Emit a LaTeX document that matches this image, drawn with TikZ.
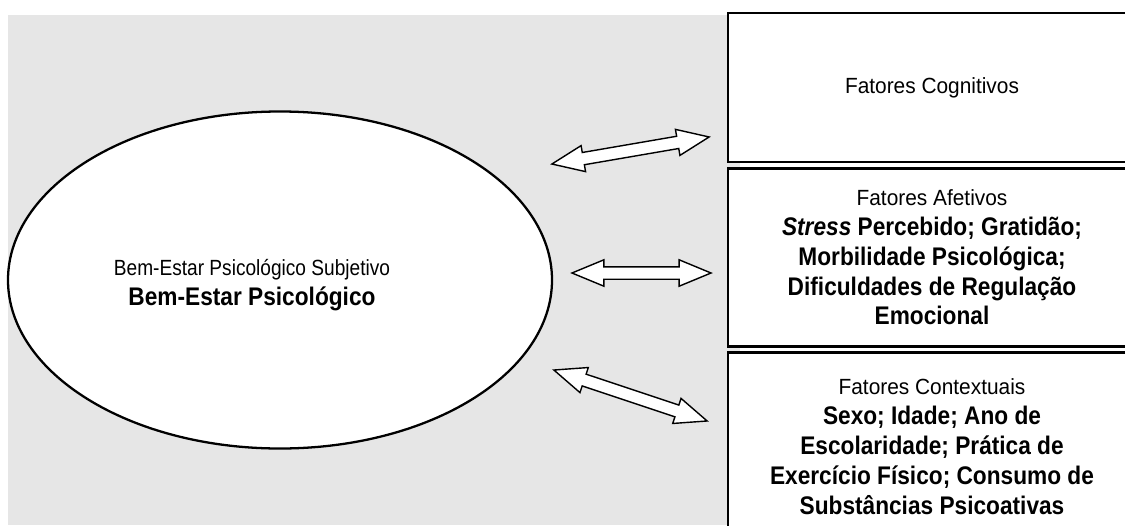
\documentclass[tikz,border=0pt]{standalone}
\usepackage{fontspec}
\setmainfont{Liberation Sans}[UprightFeatures={FakeStretch=0.95}, BoldFeatures={FakeStretch=0.89}, BoldItalicFeatures={FakeStretch=0.89}]
\newfontfamily\estreita{Liberation Sans}[FakeStretch=0.87]
\usetikzlibrary{shapes.geometric,shapes.arrows,positioning}
\definecolor{fundo}{RGB}{230,230,230}
\newcommand{\forte}[1]{{\fontsize{14.5}{17}\selectfont\bfseries #1}}
\tikzset{
  texto/.style={align=center, inner sep=0pt, font=\fontsize{12.5}{17}\selectfont},
  fator/.style={texto, rectangle, draw=black, line width=1.6pt, fill=white, minimum width=8.16cm},
  bem/.style={ellipse, draw=black, line width=1.3pt, fill=white, minimum width=10.88cm, minimum height=6.74cm, inner sep=0pt},
  dup/.style={double arrow, draw=black, line width=0.8pt, fill=white, inner xsep=0pt, inner ysep=0.11cm, double arrow head extend=0.14cm, double arrow tip angle=45},
}

\begin{document}
\begin{tikzpicture}
  \useasboundingbox (0,0) rectangle (22.5,10.5);
  \fill[fundo] (0.16,0) rectangle (14.8,10.2);
  % modelo central
  \node[bem] (bem) at (5.6,4.9) {};
  \node[texto] (bemtxt) at (5.04,4.8)
    {{\estreita Bem-Estar Psicológico Subjetivo}\\\forte{Bem-Estar Psicológico}};
  % fatores
  \node[fator, minimum height=2.98cm] (cog) at (18.64,8.75) {Fatores Cognitivos};
  \node[fator, minimum height=3.56cm, below=0.07cm of cog] (afe)
    {Fatores Afetivos\\\forte{\textit{Stress} Percebido; Gratidão;}\\\forte{Morbilidade Psicológica;}\\\forte{Dificuldades de Regulação}\\\forte{Emocional}};
  \node[fator, minimum height=3.76cm, below=0.07cm of afe] (ctx)
    {Fatores Contextuais\\\forte{Sexo; Idade; Ano de}\\\forte{Escolaridade; Prática de}\\\forte{Exercício Físico; Consumo de}\\\forte{Substâncias Psicoativas}};
  % setas duplas
  \node[dup, minimum height=3.19cm, rotate=9.76] (s1) at (12.61,7.49) {};
  \node[dup, minimum height=2.78cm] (s2) at (12.83,5.04) {};
  \node[dup, minimum height=3.23cm, rotate=-18.4] (s3) at (12.61,2.59) {};
\end{tikzpicture}
\end{document}
